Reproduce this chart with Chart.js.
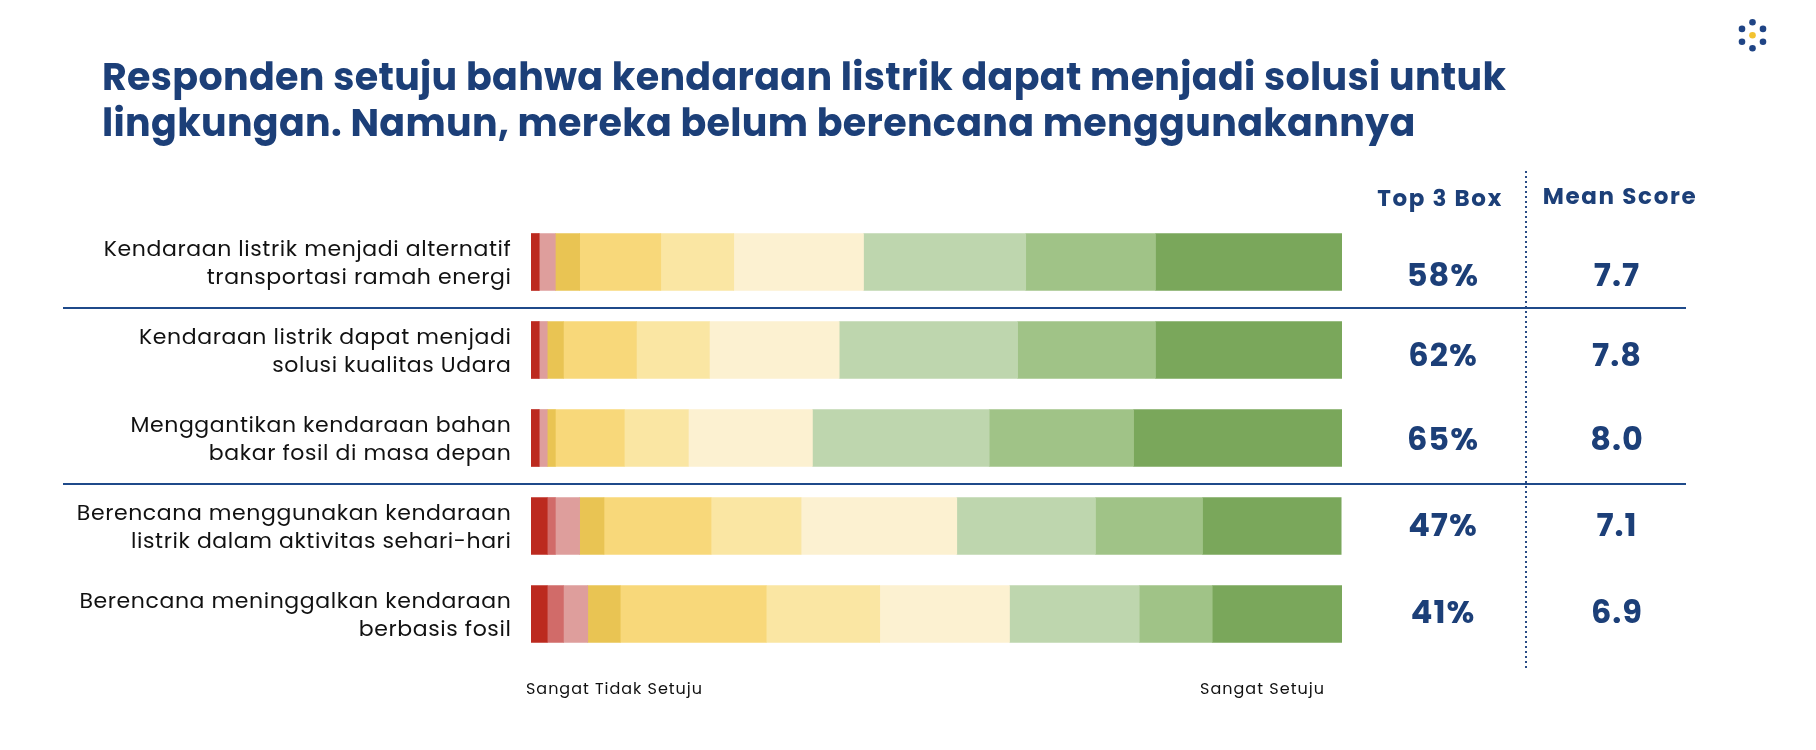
<!DOCTYPE html>
<html>
<head>
<meta charset="utf-8">
<script src="https://cdn.jsdelivr.net/npm/chart.js@4/dist/chart.umd.min.js"></script>
<style>
  html, body { margin: 0; padding: 0; background: #ffffff; }
  #c { display: block; }
</style>
</head>
<body>
<canvas id="c" width="1816" height="750"></canvas>
<script>
// ---------- DATA ----------
const titleLines = [
  "Responden setuju bahwa kendaraan listrik dapat menjadi solusi untuk",
  "lingkungan. Namun, mereka belum berencana menggunakannya"
];
const categories = [
  ["Kendaraan listrik menjadi alternatif", "transportasi ramah energi"],
  ["Kendaraan listrik dapat menjadi", "solusi kualitas Udara"],
  ["Menggantikan kendaraan bahan", "bakar fosil di masa depan"],
  ["Berencana menggunakan kendaraan", "listrik dalam aktivitas sehari-hari"],
  ["Berencana meninggalkan kendaraan", "berbasis fosil"]
];
const scalePoints = ["1", "2", "3", "4", "5", "6", "7", "8", "9", "10"];
const s1  = [1,   1,   1,   2,   2];
const s2  = [0,   0,   0,   1,   2];
const s3  = [2,   1,   1,   3,   3];
const s4  = [3,   2,   1,   3,   4];
const s5  = [10,  9,   8.5, 13.2, 18];
const s6  = [9,   9,   7.9, 11.1, 14];
const s7  = [16,  16,  15.3, 19.2, 16];
const s8  = [20,  22,  21.8, 17.1, 16];
const s9  = [16,  17,  17.8, 13.2, 9];
const s10 = [23,  23,  25.7, 17.1, 16];
const seriesValues = [s1, s2, s3, s4, s5, s6, s7, s8, s9, s10];
const top3Box = ["58%", "62%", "65%", "47%", "41%"];
const meanScore = ["7.7", "7.8", "8.0", "7.1", "6.9"];
const headers = ["Top 3 Box", "Mean Score"];
const axisEnds = ["Sangat Tidak Setuju", "Sangat Setuju"];
const groupBreaksAfter = [0, 2];

// ---------- STYLE ----------
const segColors = ["#BC2A1F", "#D16B69", "#DE9E9C", "#E9C453", "#F8D87A",
                   "#FAE6A3", "#FCF1D1", "#BED6AE", "#A0C387", "#7AA75B"];
const NAVY = "#1C3F78";
const FONT = "'Poppins', 'Open Sans', sans-serif";

function fitSpacing(ctx, text, target) {
  ctx.letterSpacing = "0px";
  const w = ctx.measureText(text).width;
  const n = Math.max(1, text.length - 1);
  return (target - w) / n;
}

const decor = {
  id: "decor",
  afterDraw(chart) {
    const ctx = chart.ctx;
    const ys = chart.scales.y;
    const area = chart.chartArea;
    ctx.save();

    // Title
    ctx.fillStyle = NAVY;
    ctx.font = "bold 38px " + FONT;
    ctx.textBaseline = "alphabetic";
    ctx.textAlign = "left";
    const tsp = fitSpacing(ctx, titleLines[0], 1404);
    ctx.letterSpacing = tsp + "px";
    ctx.fillText(titleLines[0], 102, 90);
    ctx.fillText(titleLines[1], 102, 136);
    ctx.letterSpacing = "0px";

    // Icon
    const icx = 1752.5, icy = 35.2;
    const dots = [[0,-13],[-10.5,-6.3],[10.5,-6.3],[-10.5,6.5],[10.5,6.5],[0,13]];
    ctx.fillStyle = "#1F4485";
    dots.forEach(d => { ctx.beginPath(); ctx.arc(icx + d[0], icy + d[1], 3.3, 0, Math.PI * 2); ctx.fill(); });
    ctx.fillStyle = "#F2C230";
    ctx.beginPath(); ctx.arc(icx, icy, 3.3, 0, Math.PI * 2); ctx.fill();

    // Headers
    ctx.fillStyle = NAVY;
    ctx.font = "bold 23px " + FONT;
    ctx.textAlign = "center";
    ctx.letterSpacing = fitSpacing(ctx, headers[0], 124) + "px";
    ctx.fillText(headers[0], 1440, 206);
    ctx.letterSpacing = fitSpacing(ctx, headers[1], 153) + "px";
    ctx.fillText(headers[1], 1620, 204);
    ctx.letterSpacing = "0px";

    // Separators
    ctx.strokeStyle = "#1F4A8A";
    ctx.lineWidth = 2;
    groupBreaksAfter.forEach(i => {
      const y = Math.round((ys.getPixelForValue(i) + ys.getPixelForValue(i + 1)) / 2 + 2);
      ctx.beginPath(); ctx.moveTo(63, y); ctx.lineTo(1686, y); ctx.stroke();
    });

    // Dotted vertical
    ctx.fillStyle = "#2A4C86";
    for (let y = 171; y <= 667; y += 5) {
      ctx.fillRect(1525, y, 2, 2);
    }

    // Category labels
    ctx.fillStyle = "#111111";
    ctx.font = "22px " + FONT;
    ctx.textAlign = "right";
    ctx.textBaseline = "alphabetic";
    const lsp = fitSpacing(ctx, categories[0][0], 407);
    ctx.letterSpacing = lsp + "px";
    categories.forEach((lines, i) => {
      const cy = ys.getPixelForValue(i);
      const lh = 28;
      const first = cy - 6 - (lines.length - 2) * lh / 2;
      lines.forEach((ln, k) => {
        ctx.fillText(ln, area.left - 19 - lsp, first + k * lh);
      });
    });
    ctx.letterSpacing = "0px";

    // Values
    const valueShift = [16, 8, 4, 2, 1];
    ctx.fillStyle = NAVY;
    ctx.font = "bold 32px " + FONT;
    ctx.textAlign = "center";
    ctx.textBaseline = "middle";
    ctx.letterSpacing = "1px";
    top3Box.forEach((t, i) => {
      const cy = ys.getPixelForValue(i) + valueShift[i];
      ctx.fillText(t, 1443, cy);
      ctx.fillText(meanScore[i], 1617, cy);
    });
    ctx.letterSpacing = "0px";

    // Axis end labels
    ctx.fillStyle = "#111111";
    ctx.font = "16px " + FONT;
    ctx.textBaseline = "middle";
    ctx.textAlign = "left";
    ctx.letterSpacing = fitSpacing(ctx, axisEnds[0], 176) + "px";
    ctx.fillText(axisEnds[0], area.left - 5, 690);
    ctx.textAlign = "right";
    ctx.letterSpacing = fitSpacing(ctx, axisEnds[1], 124) + "px";
    ctx.fillText(axisEnds[1], area.right - 17, 690);
    ctx.letterSpacing = "0px";

    ctx.restore();
  }
};

new Chart(document.getElementById("c"), {
  type: "bar",
  data: {
    labels: categories,
    datasets: seriesValues.map((vals, k) => ({
      label: scalePoints[k],
      data: vals,
      backgroundColor: segColors[k],
      borderWidth: 0,
      barThickness: 57,
      stack: "s"
    }))
  },
  options: {
    indexAxis: "y",
    responsive: false,
    animation: false,
    devicePixelRatio: 1,
    layout: { padding: { left: 531, right: 474, top: 218, bottom: 92 } },
    plugins: { legend: { display: false }, tooltip: { enabled: false } },
    scales: {
      x: { stacked: true, min: 0, max: 100, display: false },
      y: { stacked: true, display: false }
    }
  },
  plugins: [decor]
});
</script>
</body>
</html>
